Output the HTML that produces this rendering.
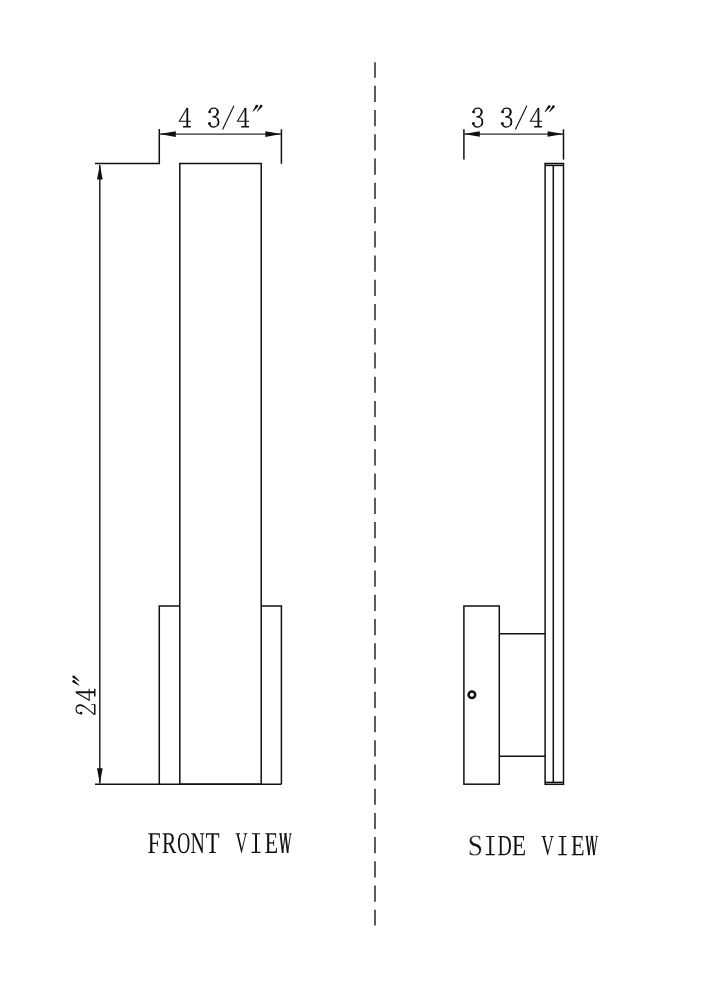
<!DOCTYPE html>
<html><head><meta charset="utf-8"><style>
html,body{margin:0;padding:0;background:#fff;overflow:hidden;}
svg{display:block;}
</style></head><body>
<svg width="707" height="1000" viewBox="0 0 707 1000">
<rect width="707" height="1000" fill="#fff"/>
<line x1="375" y1="62.2" x2="375" y2="925.6" stroke="#262626" stroke-width="1.5" stroke-dasharray="16.2 8.035" stroke-dashoffset="0.6"/>

<g fill="none" stroke="#111" stroke-width="1.5">
<rect x="179.8" y="163.5" width="81.4" height="620.7"/>
<polyline points="159.3,129 159.3,163.5 95,163.5"/>
<line x1="281.4" y1="129.3" x2="281.4" y2="163.8"/>
<polyline points="159.3,784.2 159.3,606 179.8,606"/>
<polyline points="261.2,606 281.4,606 281.4,784.2"/>
<line x1="95" y1="784.2" x2="281.4" y2="784.2"/>
<rect x="463.9" y="606" width="35.4" height="178.2"/>
<line x1="499.3" y1="633.8" x2="545.1" y2="633.8"/>
<line x1="499.3" y1="756.2" x2="545.1" y2="756.2"/>
<rect x="545.1" y="163.5" width="18.4" height="620.8"/>
<line x1="545.1" y1="165.4" x2="563.5" y2="165.4"/>
<line x1="545.1" y1="782.4" x2="563.5" y2="782.4"/>
<line x1="553.3" y1="165.4" x2="553.3" y2="782.4"/>
<line x1="463.9" y1="129.3" x2="463.9" y2="159.6"/>
<line x1="563.5" y1="129.3" x2="563.5" y2="159.6"/>
<circle cx="471.9" cy="694.7" r="3.3" stroke-width="2.5"/>
</g>
<g fill="none" stroke="#2a2a2a" stroke-width="1.4">
<line x1="159.3" y1="134.1" x2="281.4" y2="134.1"/>
<line x1="463.9" y1="134.1" x2="563.5" y2="134.1"/>
</g>
<line x1="99.8" y1="165" x2="99.8" y2="783.5" stroke="#222" stroke-width="1.5"/>
<g fill="#111" stroke="none">
<path d="M159.30 134.10L175.80 136.90L175.80 131.30Z"/>
<path d="M281.40 134.10L265.40 131.30L265.40 136.90Z"/>
<path d="M99.85 164.50L97.00 179.60L102.70 179.60Z"/>
<path d="M99.85 783.80L102.70 768.30L97.00 768.30Z"/>
<path d="M463.90 134.00L479.80 136.70L479.80 131.30Z"/>
<path d="M563.50 134.00L547.60 131.30L547.60 136.70Z"/>
</g>

<g fill="#111"><path transform="translate(147.52 852.90) scale(0.01153 -0.01462)" d="M424 602V80L647 53V0H72V53L231 80V1262L59 1288V1341H1065V1020H999L967 1237Q855 1251 643 1251H424V692H819L850 852H911V440H850L819 602Z"/>
<path transform="translate(161.88 852.90) scale(0.01058 -0.01462)" d="M424 588V80L627 53V0H72V53L231 80V1262L59 1288V1341H638Q890 1341 1010 1256Q1130 1171 1130 983Q1130 849 1057 751.5Q984 654 855 616L1218 80L1363 53V0H1042L665 588ZM931 969Q931 1122 856.5 1186.5Q782 1251 595 1251H424V678H601Q780 678 855.5 744.5Q931 811 931 969Z"/>
<path transform="translate(177.16 852.91) scale(0.00885 -0.01468)" d="M293 672Q293 349 401 204Q509 59 739 59Q968 59 1077 204Q1186 349 1186 672Q1186 993 1077.5 1134.5Q969 1276 739 1276Q508 1276 400.5 1134.5Q293 993 293 672ZM84 672Q84 1356 739 1356Q1063 1356 1229 1182.5Q1395 1009 1395 672Q1395 330 1227 155Q1059 -20 739 -20Q420 -20 252 154.5Q84 329 84 672Z"/>
<path transform="translate(190.53 852.90) scale(0.00969 -0.01462)" d="M1155 1262 975 1288V1341H1432V1288L1260 1262V0H1163L336 1206V80L516 53V0H59V53L231 80V1262L59 1288V1341H465L1155 348Z"/>
<path transform="translate(205.59 852.90) scale(0.01119 -0.01462)" d="M315 0V53L528 80V1255H477Q224 1255 131 1235L104 1026H37V1341H1217V1026H1149L1122 1235Q1092 1242 991 1247.5Q890 1253 770 1253H721V80L934 53V0Z"/>
<path transform="translate(235.41 852.46) scale(0.00816 -0.01429)" d="M1456 1341V1288L1309 1262L770 -31H719L174 1262L23 1288V1341H565V1288L385 1262L791 275L1196 1262L1020 1288V1341Z"/>
<path d="M251.80 833.30H260.20V834.30H257.00V851.70H260.50V852.90H251.50V851.70H255.05V834.30H251.80Z"/>
<path transform="translate(264.67 852.90) scale(0.01073 -0.01462)" d="M59 53 231 80V1262L59 1288V1341H1065V1020H999L967 1237Q855 1251 643 1251H424V727H786L817 887H881V475H817L786 637H424V90H688Q946 90 1026 106L1083 354H1149L1130 0H59Z"/>
<g fill="none" stroke="#111"><path d="M280.50 833.70L282.70 852.80M285.50 833.70L287.70 852.80" stroke-width="1.75"/><path d="M282.60 852.80L285.30 833.90M287.60 852.80L290.50 833.90" stroke-width="0.95"/><path d="M279.20 833.80H282.10M284.00 833.80H287.00M289.20 833.80H291.60" stroke-width="0.95"/></g>
<path transform="translate(467.65 855.21) scale(0.01349 -0.01446)" d="M139 361H204L239 180Q276 133 366.5 97Q457 61 545 61Q685 61 763.5 132.5Q842 204 842 330Q842 402 811.5 449Q781 496 731.5 528.5Q682 561 619 583.5Q556 606 489.5 629Q423 652 360 680Q297 708 247.5 751Q198 794 167.5 857.5Q137 921 137 1014Q137 1174 257 1265Q377 1356 590 1356Q752 1356 942 1313V1034H877L842 1198Q740 1272 590 1272Q456 1272 380.5 1217.5Q305 1163 305 1067Q305 1002 335.5 959Q366 916 415.5 885.5Q465 855 528.5 833Q592 811 658.5 787.5Q725 764 788.5 734.5Q852 705 901.5 659.5Q951 614 981.5 548.5Q1012 483 1012 387Q1012 193 893 86.5Q774 -20 550 -20Q442 -20 333 -1Q224 18 139 51Z" stroke="#fff" stroke-width="0.45" vector-effect="non-scaling-stroke"/>
<path d="M486.10 835.90H494.40V836.90H491.25V854.00H494.70V855.20H485.80V854.00H489.30V836.90H486.10Z"/>
<path transform="translate(497.64 855.20) scale(0.00957 -0.01439)" d="M1188 680Q1188 961 1036.5 1106Q885 1251 604 1251H424V94Q544 86 709 86Q955 86 1071.5 231Q1188 376 1188 680ZM668 1341Q1039 1341 1218 1175.5Q1397 1010 1397 678Q1397 342 1224.5 169Q1052 -4 709 -4L231 0H59V53L231 80V1262L59 1288V1341Z"/>
<path transform="translate(511.83 855.20) scale(0.01138 -0.01439)" d="M59 53 231 80V1262L59 1288V1341H1065V1020H999L967 1237Q855 1251 643 1251H424V727H786L817 887H881V475H817L786 637H424V90H688Q946 90 1026 106L1083 354H1149L1130 0H59Z"/>
<path transform="translate(541.20 854.76) scale(0.00865 -0.01407)" d="M1456 1341V1288L1309 1262L770 -31H719L174 1262L23 1288V1341H565V1288L385 1262L791 275L1196 1262L1020 1288V1341Z"/>
<path d="M558.60 835.90H566.40V836.90H563.50V854.00H566.70V855.20H558.30V854.00H561.55V836.90H558.60Z"/>
<path transform="translate(570.96 855.20) scale(0.01092 -0.01439)" d="M59 53 231 80V1262L59 1288V1341H1065V1020H999L967 1237Q855 1251 643 1251H424V727H786L817 887H881V475H817L786 637H424V90H688Q946 90 1026 106L1083 354H1149L1130 0H59Z"/>
<g fill="none" stroke="#111"><path d="M586.81 836.29L589.03 855.10M591.85 836.29L594.07 855.10" stroke-width="1.75"/><path d="M588.93 855.10L591.65 836.49M593.97 855.10L596.89 836.49" stroke-width="0.95"/><path d="M585.50 836.39H588.42M590.34 836.39H593.36M595.58 836.39H598.00" stroke-width="0.95"/></g>
<g transform="translate(178.90 107.70)"><path d="M7.5 0.3L9.3 0L9.3 18.4L11.9 18.4L11.9 19.9L4.1 19.9L4.1 18.4L7.5 18.4Z"/><path d="M8.1 0.5L0.4 13.6L12 13.6" fill="none" stroke="#111" stroke-width="1.05"/></g>
<g transform="translate(208.10 107.60)"><path d="M1.4 4.2C1.9 1.7 3.5 0.5 5.5 0.5C8.2 0.5 9.9 2.1 9.9 4.5C9.9 7.2 7.7 9.1 4.3 9.3C8.2 9.3 10.6 11.3 10.6 14.4C10.6 17.5 8.3 19.4 5.4 19.4C3.3 19.4 1.7 18.2 1.2 15.9" fill="none" stroke="#111" stroke-width="1.25"/><path d="M8.8 2.2C9.9 3.6 9.7 5.9 8.4 7.2M9.4 11.4C10.9 13.3 10.7 16.3 9.0 17.9" fill="none" stroke="#111" stroke-width="1.6"/><circle cx="1.6" cy="4.3" r="1.45"/><circle cx="1.4" cy="15.9" r="1.5"/></g>
<line x1="222.6" y1="129.5" x2="233.9" y2="105.7" stroke="#111" stroke-width="1.15"/>
<g transform="translate(237.10 107.70)"><path d="M7.5 0.3L9.3 0L9.3 18.4L11.9 18.4L11.9 19.9L4.1 19.9L4.1 18.4L7.5 18.4Z"/><path d="M8.1 0.5L0.4 13.6L12 13.6" fill="none" stroke="#111" stroke-width="1.05"/></g>
<g transform="translate(252.30 104.90)"><path d="M3.61 0.44L0.10 6.65L0.50 6.95L5.59 1.96Z"/><circle cx="4.60" cy="1.20" r="1.25"/><path d="M7.90 0.45L4.50 6.65L4.90 6.95L9.90 1.95Z"/><circle cx="8.90" cy="1.20" r="1.25"/></g>
<g transform="translate(472.00 107.60)"><path d="M1.4 4.2C1.9 1.7 3.5 0.5 5.5 0.5C8.2 0.5 9.9 2.1 9.9 4.5C9.9 7.2 7.7 9.1 4.3 9.3C8.2 9.3 10.6 11.3 10.6 14.4C10.6 17.5 8.3 19.4 5.4 19.4C3.3 19.4 1.7 18.2 1.2 15.9" fill="none" stroke="#111" stroke-width="1.25"/><path d="M8.8 2.2C9.9 3.6 9.7 5.9 8.4 7.2M9.4 11.4C10.9 13.3 10.7 16.3 9.0 17.9" fill="none" stroke="#111" stroke-width="1.6"/><circle cx="1.6" cy="4.3" r="1.45"/><circle cx="1.4" cy="15.9" r="1.5"/></g>
<g transform="translate(501.00 107.60)"><path d="M1.4 4.2C1.9 1.7 3.5 0.5 5.5 0.5C8.2 0.5 9.9 2.1 9.9 4.5C9.9 7.2 7.7 9.1 4.3 9.3C8.2 9.3 10.6 11.3 10.6 14.4C10.6 17.5 8.3 19.4 5.4 19.4C3.3 19.4 1.7 18.2 1.2 15.9" fill="none" stroke="#111" stroke-width="1.25"/><path d="M8.8 2.2C9.9 3.6 9.7 5.9 8.4 7.2M9.4 11.4C10.9 13.3 10.7 16.3 9.0 17.9" fill="none" stroke="#111" stroke-width="1.6"/><circle cx="1.6" cy="4.3" r="1.45"/><circle cx="1.4" cy="15.9" r="1.5"/></g>
<line x1="515.4" y1="129.5" x2="526.85" y2="105.75" stroke="#111" stroke-width="1.15"/>
<g transform="translate(530.00 107.70)"><path d="M7.5 0.3L9.3 0L9.3 18.4L11.9 18.4L11.9 19.9L4.1 19.9L4.1 18.4L7.5 18.4Z"/><path d="M8.1 0.5L0.4 13.6L12 13.6" fill="none" stroke="#111" stroke-width="1.05"/></g>
<g transform="translate(544.60 105.20)"><path d="M3.61 0.44L0.10 6.65L0.50 6.95L5.59 1.96Z"/><circle cx="4.60" cy="1.20" r="1.25"/><path d="M7.90 0.45L4.50 6.65L4.90 6.95L9.90 1.95Z"/><circle cx="8.90" cy="1.20" r="1.25"/></g></g>
<g fill="#111" transform="translate(75.5 714.75) rotate(-90)"><g transform="translate(-0.60 0.00)"><path d="M2.1 5.6C1.2 3.2 3.0 0.6 5.8 0.6C8.6 0.6 10.4 2.4 10.4 4.9C10.4 7.9 7.8 10.1 0.9 18.8" fill="none" stroke="#111" stroke-width="1.15"/><path d="M9.0 2.0C10.5 4 10 6.5 8.6 8.2" fill="none" stroke="#111" stroke-width="1.1"/><circle cx="2.2" cy="5.5" r="1.35"/><path d="M0.5 18.5L11.2 18.5L11.2 15.8L10.3 15.8L10.3 18.5L11.2 18.5L11.2 20L0.5 20Z"/></g><g transform="translate(14.10 0.10)"><path d="M7.5 0.3L9.3 0L9.3 18.4L11.9 18.4L11.9 19.9L4.1 19.9L4.1 18.4L7.5 18.4Z"/><path d="M8.1 0.5L0.4 13.6L12 13.6" fill="none" stroke="#111" stroke-width="1.05"/></g><g transform="translate(29.00 -3.10)"><path d="M3.61 0.44L0.10 6.65L0.50 6.95L5.59 1.96Z"/><circle cx="4.60" cy="1.20" r="1.25"/><path d="M7.90 0.45L4.50 6.65L4.90 6.95L9.90 1.95Z"/><circle cx="8.90" cy="1.20" r="1.25"/></g></g>
</svg>
</body></html>
